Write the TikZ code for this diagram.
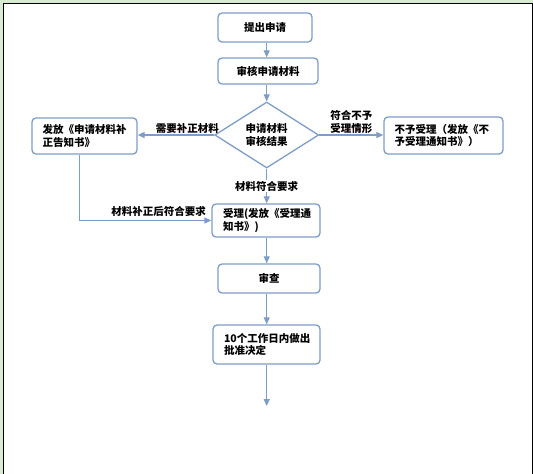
\documentclass[tikz,border=0pt]{standalone}
\usepackage{fontspec}
\setmainfont{Noto Sans CJK SC}
\usetikzlibrary{arrows.meta,shapes.geometric}
\definecolor{bg}{HTML}{D8EBD1}
\definecolor{edge}{HTML}{7E9DC6}
\begin{document}
\begin{tikzpicture}[x=1pt,y=-1pt,
  font=\fontsize{10.5}{12.5}\selectfont\bfseries,
  box/.style={draw=edge, line width=1.3pt, rounded corners=4pt, fill=white, inner sep=0pt},
  arr/.style={draw=edge, line width=1.2pt, -{Triangle[width=6pt,length=7pt]}},
  lbl/.style={inner sep=1pt}]
\useasboundingbox (0,0) rectangle (533,474);
\fill[bg] (0,0) rectangle (533,474);
\fill[white] (3,3) rectangle (532,474);
\draw[black, line width=1pt] (3,474) -- (3,3) -- (532,3) -- (532,474);

\node[box, minimum width=94, minimum height=29] (start) at (265,27.5) {提出申请};
\node[box, minimum width=100, minimum height=26] (check) at (268,71) {审核申请材料};
\node[draw=edge, line width=1.3pt, diamond, aspect=1.55, minimum width=104, minimum height=66, inner sep=0pt, align=center] (dia) at (266.7,135) {申请材料\\审核结果};
\node[box, minimum width=105, minimum height=36, text width=84, align=left] (fix) at (84.5,136) {发放《申请材料补\\正告知书》};
\node[box, minimum width=119, minimum height=37, text width=98, align=left] (rej) at (443.5,135.5) {不予受理（发放《不\\予受理通知书》）};
\node[box, minimum width=108, minimum height=33, text width=86, align=left] (acc) at (266,220.5) {受理(发放《受理通\\知书》)};
\node[box, minimum width=102, minimum height=29] (rev) at (269,278.5) {审查};
\node[box, minimum width=107, minimum height=39, text width=85, align=left] (dec) at (266.5,344.5) {10个工作日内做出\\批准决定};
\coordinate (end) at (266.7,406);

\draw[arr] (start.south -| dia.north) -- (check.north -| dia.north);
\draw[arr] (check.south -| dia.north) -- (dia.north);
\draw[arr] (dia.west) -- (dia.west -| fix.east) node[pos=0.35, above, lbl] {需要补正材料};
\draw[arr] (dia.east) -- (dia.east -| rej.west) node[pos=0.5, above, align=center, lbl] {符合不予\\受理情形};
\draw[arr] (dia.south) -- (acc.north -| dia.south) node[pos=0.5, fill=white, lbl] {材料符合要求};
\draw[arr] ([xshift=-5pt]fix.south) |- (acc.west) node[pos=0.8, above, inner sep=3pt] {材料补正后符合要求};
\draw[arr] (acc.south -| dia.south) -- (rev.north -| dia.south);
\draw[arr] (rev.south -| dia.south) -- (dec.north -| dia.south);
\draw[arr] (dec.south -| dia.south) -- (end);
\end{tikzpicture}
\end{document}
